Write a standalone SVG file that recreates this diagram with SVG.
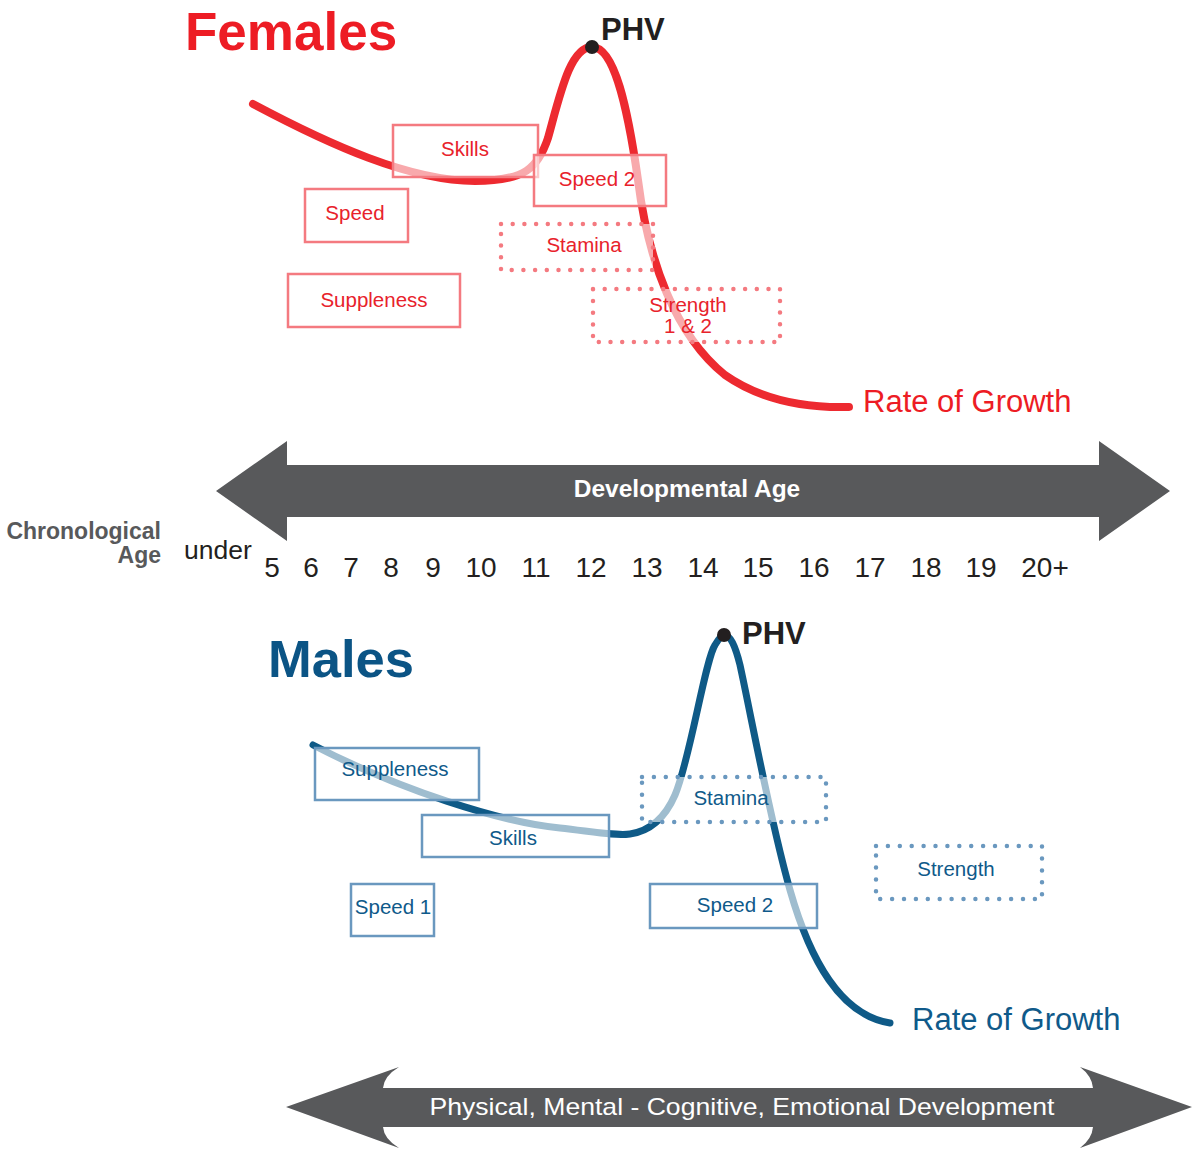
<svg xmlns="http://www.w3.org/2000/svg" width="1194" height="1150" viewBox="0 0 1194 1150">
<style>
text{font-family:"Liberation Sans",Arial,sans-serif}
.fbox{fill:#fff;fill-opacity:0.6;stroke:#f47a80;stroke-width:2.5}
.fdot{fill:#fff;fill-opacity:0.6;stroke:#f47a80;stroke-width:4.5;stroke-linecap:round;stroke-dasharray:0 11.7}
.mbox{fill:#fff;fill-opacity:0.6;stroke:#6a98bf;stroke-width:2.5}
.mdot{fill:#fff;fill-opacity:0.6;stroke:#6a98bf;stroke-width:4.5;stroke-linecap:round;stroke-dasharray:0 11.9}
.ft{fill:#e8222b;font-size:20.5px;text-anchor:middle}
.mt{fill:#0f5a8a;font-size:20.5px;text-anchor:middle}
.num{fill:#231f20;font-size:28px;text-anchor:middle}
.phv{fill:#231f20;font-size:31px;font-weight:bold}
</style>

<!-- Titles -->
<text x="185" y="50" font-size="53" font-weight="bold" fill="#ed1c24">Females</text>
<text x="268" y="677" font-size="52.5" font-weight="bold" fill="#0b5485">Males</text>

<!-- Curves -->
<g id="connectors">
  <path id="female-curve" d="M253,104 C330,145 410,181 475,181 C525,181 538,168 548,138 C560,95 570,47 592,47 C615,47 628,110 638,180 C648,260 675,335 725,375 C765,403 810,408 849,407" fill="none" stroke="#ed2a30" stroke-width="8" stroke-linecap="round"/>
  <path id="male-curve" d="M313,745 C400,790 500,822 560,828 C595,832 615,836 630,834 C650,831 665,818 675,795 C690,760 705,660 715,645 C720,637 722,635 724,635 C730,635 735,645 740,665 C752,720 770,820 790,890 C810,960 840,1015 890,1023" fill="none" stroke="#0f5a87" stroke-width="7" stroke-linecap="round"/>
</g>

<!-- PHV -->
<g id="phv-female">
  <circle cx="592" cy="47" r="7" fill="#231f20"/>
  <text class="phv" x="601" y="40">PHV</text>
</g>
<g id="phv-male">
  <circle cx="724" cy="635" r="7" fill="#231f20"/>
  <text class="phv" x="742" y="644">PHV</text>
</g>

<!-- Female boxes -->
<g id="f-skills"><rect class="fbox" x="393" y="125" width="145" height="52"/><text class="ft" x="465" y="156">Skills</text></g>
<g id="f-speed2"><rect class="fbox" x="534" y="155" width="132" height="51"/><text class="ft" x="597" y="186">Speed 2</text></g>
<g id="f-speed"><rect class="fbox" x="305" y="189" width="103" height="53"/><text class="ft" x="355" y="220">Speed</text></g>
<g id="f-stamina"><rect class="fdot" x="501" y="224" width="152" height="46"/><text class="ft" x="584" y="252">Stamina</text></g>
<g id="f-suppleness"><rect class="fbox" x="288" y="274" width="172" height="53"/><text class="ft" x="374" y="307">Suppleness</text></g>
<g id="f-strength"><rect class="fdot" x="593" y="289" width="187" height="53"/><text class="ft" x="688" y="312">Strength</text><text class="ft" x="688" y="333">1 &amp; 2</text></g>
<text x="863" y="412" font-size="31" fill="#ed1c24">Rate of Growth</text>

<!-- Developmental Age arrow -->
<g id="dev-age-arrow">
  <polygon points="216,491 287,441 287,465 1099,465 1099,441 1170,491 1099,541 1099,517 287,517 287,541" fill="#58595b"/>
  <text x="687" y="497" font-size="24.5" font-weight="bold" fill="#fff" text-anchor="middle">Developmental Age</text>
</g>

<!-- Chronological age axis -->
<g id="chrono-axis">
  <text x="161" y="539" font-size="23" font-weight="bold" fill="#58595b" text-anchor="end">Chronological</text>
  <text x="161" y="563" font-size="23" font-weight="bold" fill="#58595b" text-anchor="end">Age</text>
  <text x="184" y="559" font-size="26.5" fill="#231f20">under</text>
  <text class="num" x="272" y="577">5</text>
  <text class="num" x="311" y="577">6</text>
  <text class="num" x="351" y="577">7</text>
  <text class="num" x="391" y="577">8</text>
  <text class="num" x="433" y="577">9</text>
  <text class="num" x="481" y="577">10</text>
  <text class="num" x="536" y="577">11</text>
  <text class="num" x="591" y="577">12</text>
  <text class="num" x="647" y="577">13</text>
  <text class="num" x="703" y="577">14</text>
  <text class="num" x="758" y="577">15</text>
  <text class="num" x="814" y="577">16</text>
  <text class="num" x="870" y="577">17</text>
  <text class="num" x="926" y="577">18</text>
  <text class="num" x="981" y="577">19</text>
  <text class="num" x="1045" y="577">20+</text>
</g>

<!-- Male boxes -->
<g id="m-suppleness"><rect class="mbox" x="315" y="748" width="164" height="52"/><text class="mt" x="395" y="776">Suppleness</text></g>
<g id="m-skills"><rect class="mbox" x="422" y="815" width="187" height="42"/><text class="mt" x="513" y="845">Skills</text></g>
<g id="m-stamina"><rect class="mdot" x="642" y="777" width="184" height="45"/><text class="mt" x="731" y="805">Stamina</text></g>
<g id="m-strength"><rect class="mdot" x="876" y="846" width="166" height="53"/><text class="mt" x="956" y="876">Strength</text></g>
<g id="m-speed1"><rect class="mbox" x="351" y="884" width="83" height="52"/><text class="mt" x="393" y="914">Speed 1</text></g>
<g id="m-speed2"><rect class="mbox" x="650" y="884" width="167" height="44"/><text class="mt" x="735" y="912">Speed 2</text></g>
<text x="912" y="1030" font-size="31" fill="#0f5a8a">Rate of Growth</text>

<!-- Development arrow -->
<g id="development-arrow">
  <path d="M286,1107 L399,1067 Q384,1076 383,1088 L1093,1088 Q1092,1076 1080,1067 L1192,1107 L1080,1148 Q1092,1139 1093,1127 L383,1127 Q384,1139 399,1148 Z" fill="#58595b"/>
  <text x="742" y="1115" font-size="24" fill="#fff" text-anchor="middle" textLength="625" lengthAdjust="spacingAndGlyphs">Physical, Mental - Cognitive, Emotional Development</text>
</g>
</svg>
